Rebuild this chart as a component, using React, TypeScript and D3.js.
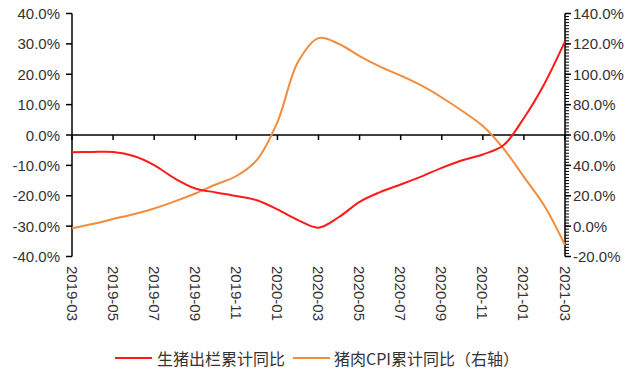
import React from "react";
import * as d3 from "d3";

const months: string[] = [
  "2019-03","2019-04","2019-05","2019-06","2019-07","2019-08","2019-09","2019-10","2019-11","2019-12",
  "2020-01","2020-02","2020-03","2020-04","2020-05","2020-06","2020-07","2020-08","2020-09","2020-10",
  "2020-11","2020-12","2021-01","2021-02","2021-03",
];
// 生猪出栏累计同比 (left axis, %)
const hogSlaughter: number[] = [
  -5.7, -5.6, -5.6, -6.9, -9.9, -14.3, -17.6, -18.9, -20.1, -21.5,
  -24.5, -28.0, -30.5, -27.0, -22.0, -18.8, -16.3, -13.7, -10.8, -8.3,
  -6.4, -3.4, 5.6, 16.9, 30.8,
];
// 猪肉CPI累计同比 (right axis, %)
const porkCPI: number[] = [
  -1.4, 1.4, 4.7, 7.8, 11.6, 16.3, 21.5, 27.4, 33.0, 43.6,
  68.5, 108.0, 123.8, 119.9, 112.0, 105.0, 99.1, 92.6, 84.7, 75.8,
  65.9, 51.2, 32.4, 13.3, -12.4,
];
const leftTicks: number[] = [40, 30, 20, 10, 0, -10, -20, -30, -40];
const rightTicks: number[] = [140, 120, 100, 80, 60, 40, 20, 0, -20];
const legendLabels: string[] = ["生猪出栏累计同比", "猪肉CPI累计同比（右轴）"];
const colors: string[] = ["#FF1A1A", "#F28C3C"];

export default function App() {
  const W = 640, H = 375;
  const x0 = 72, x1 = 565, yTop = 13.5, yBot = 256.5;
  const x = d3.scalePoint<string>().domain(months).range([x0, x1]);
  const yL = d3.scaleLinear().domain([-40, 40]).range([yBot, yTop]);
  const yR = d3.scaleLinear().domain([-20, 140]).range([yBot, yTop]);
  const lineL = d3.line<number>().x((_, i) => x(months[i])!).y(d => yL(d)).curve(d3.curveCatmullRom);
  const lineR = d3.line<number>().x((_, i) => x(months[i])!).y(d => yR(d)).curve(d3.curveCatmullRom);
  const font = "'Liberation Sans', Arial, 'Noto Sans CJK SC', sans-serif";
  const cjk = "'Noto Sans CJK SC', 'Liberation Sans', sans-serif";
  const minor = d3.range(-20, 141, 2);
  const y0 = yL(0);
  const xTickMonths = months.filter((_, i) => i % 2 === 0);
  return (
    <svg width={W} height={H} style={{ position: "absolute", left: 0, top: 0, background: "#fff" }}>
      {/* left axis */}
      <line x1={x0} x2={x0} y1={yTop} y2={yBot} stroke="#000" strokeWidth={1.5} />
      {leftTicks.map(t => (
        <g key={"l" + t}>
          <line x1={x0 - 6} x2={x0} y1={yL(t)} y2={yL(t)} stroke="#000" strokeWidth={1.5} />
          <text x={60} y={yL(t)} textAnchor="end" dominantBaseline="central" fontSize={15} fontFamily={font} fill="#333">
            {t.toFixed(1) + "%"}
          </text>
        </g>
      ))}
      {/* right axis */}
      <line x1={x1} x2={x1} y1={yTop} y2={yBot} stroke="#000" strokeWidth={1.5} />
      {minor.map(t => (
        <line key={"m" + t} x1={x1} x2={x1 + 4} y1={yR(t)} y2={yR(t)} stroke="#000" strokeWidth={1} />
      ))}
      {rightTicks.map(t => (
        <g key={"r" + t}>
          <line x1={x1} x2={x1 + 6} y1={yR(t)} y2={yR(t)} stroke="#000" strokeWidth={1.5} />
          <text x={573} y={yR(t)} textAnchor="start" dominantBaseline="central" fontSize={15} fontFamily={font} fill="#333">
            {t.toFixed(1) + "%"}
          </text>
        </g>
      ))}
      {/* x axis at zero */}
      <line x1={x0} x2={x1} y1={y0} y2={y0} stroke="#000" strokeWidth={1.5} />
      {xTickMonths.map(m => (
        <g key={m}>
          <line x1={x(m)!} x2={x(m)!} y1={y0} y2={y0 + 5} stroke="#000" strokeWidth={1.5} />
          <text transform={`translate(${x(m)!},266) rotate(90)`} textAnchor="start" dominantBaseline="central" fontSize={15} fontFamily={font} fill="#333">
            {m}
          </text>
        </g>
      ))}
      {/* lines */}
      <path d={lineR(porkCPI)!} fill="none" stroke={colors[1]} strokeWidth={2} />
      <path d={lineL(hogSlaughter)!} fill="none" stroke={colors[0]} strokeWidth={2} />
      {/* legend */}
      <line x1={115} x2={152} y1={358} y2={358} stroke={colors[0]} strokeWidth={2} />
      <text x={157} y={358} dominantBaseline="central" fontSize={16} fontFamily={cjk} fill="#333">{legendLabels[0]}</text>
      <line x1={293} x2={330} y1={358} y2={358} stroke={colors[1]} strokeWidth={2} />
      <text x={334} y={358} dominantBaseline="central" fontSize={16} fontFamily={cjk} fill="#333">{legendLabels[1]}</text>
    </svg>
  );
}
